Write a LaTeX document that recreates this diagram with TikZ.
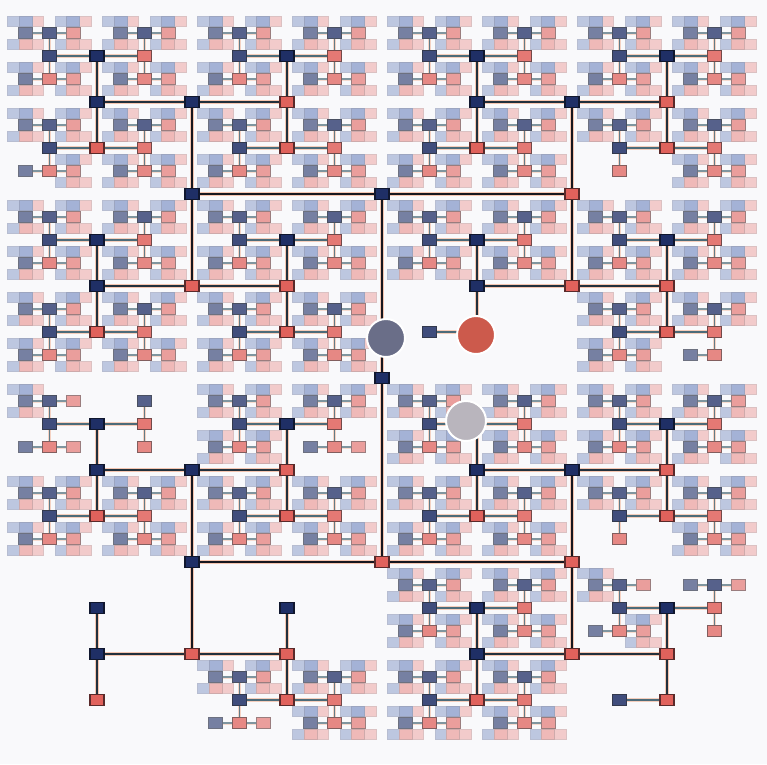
\documentclass[tikz,border=0pt]{standalone}
\pgfdeclarelayer{back}
\pgfdeclarelayer{edges}
\pgfdeclarelayer{top}
\pgfsetlayers{back,edges,main,top}
\definecolor{bg}{HTML}{F9F9FB}
\definecolor{dkF}{HTML}{1F2F66}
\definecolor{dkD}{HTML}{10172E}
\definecolor{rdF}{HTML}{E0625C}
\definecolor{rdD}{HTML}{5A2A2A}
\definecolor{dkEF}{HTML}{3D5CA8}
\definecolor{dkED}{HTML}{2A3F78}
\definecolor{rdEF}{HTML}{E26A66}
\definecolor{rdED}{HTML}{9A4A4A}
\definecolor{trunk}{HTML}{17171F}
\definecolor{midline}{HTML}{22303C}
\definecolor{teal}{HTML}{2E5262}
\definecolor{halocol}{HTML}{F0A27E}
\definecolor{circdark}{HTML}{6A6E88}
\definecolor{circred}{HTML}{CC5A4C}
\definecolor{circgray}{HTML}{B9B5BD}
\tikzset{
  tnode/.style={rectangle, minimum width=14pt, minimum height=10.5pt, inner sep=0pt, line width=1.1pt},
  marker/.style={circle, draw=white, line width=2pt, inner sep=0pt, minimum size=38pt},
}
\makeatletter
\def\tMaxD{10}
% depth, child offset, node strength (percent), edge width into node, edge colour into node, half width, half height
\newcommand\defdepth[7]{%
  \expandafter\gdef\csname off@#1\endcsname{#2}%
  \expandafter\gdef\csname op@#1\endcsname{#3}%
  \expandafter\gdef\csname ew@#1\endcsname{#4}%
  \expandafter\gdef\csname ec@#1\endcsname{#5}%
  \expandafter\gdef\csname hw@#1\endcsname{#6}%
  \expandafter\gdef\csname hh@#1\endcsname{#7}}
\defdepth{0}{184}{100}{2.6}{trunk}{7}{5.25}
\defdepth{1}{190}{100}{2.8}{trunk}{7}{5.25}
\defdepth{2}{92}{100}{2.6}{trunk}{7}{5.25}
\defdepth{3}{95}{100}{2.3}{trunk}{7}{5.25}
\defdepth{4}{46}{100}{2.0}{midline}{7}{5.25}
\defdepth{5}{47.5}{100}{1.8}{midline}{7}{5.25}
\defdepth{6}{23}{85}{1.6}{teal}{7}{5.25}
\defdepth{7}{23.75}{75}{1.5}{teal}{7}{5.25}
\defdepth{8}{11.5}{60}{1.4}{teal}{7}{5.25}
\defdepth{9}{11.875}{45}{1.3}{teal}{6.6}{5}
\defdepth{10}{5.75}{32}{1.2}{teal}{6}{4.6}
\newcommand\tleafs[1]{\foreach \tP in {#1}{\expandafter\gdef\csname tl@\tP\endcsname{}}}
\newcommand\tgone[1]{\foreach \tP in {#1}{\expandafter\gdef\csname tm@\tP\endcsname{}}}
\newcount\tdd
\newif\iftedgepass
\newcommand\tsub[4]{% path, depth, x, y
  \begingroup
  \edef\tCD{#2}\edef\tCX{#3}\edef\tCY{#4}%
  \ifcsname tl@#1\endcsname\else
  \ifnum\tCD<\tMaxD\relax
    \edef\tOff{\csname off@\tCD\endcsname}%
    \tdd=\tCD\relax \advance\tdd by 1 \edef\tND{\the\tdd}%
    \ifodd\tCD\relax
      \pgfmathsetmacro\tAX{\tCX-\tOff}\edef\tAY{\tCY}%
      \pgfmathsetmacro\tBX{\tCX+\tOff}\edef\tBY{\tCY}%
    \else
      \edef\tAX{\tCX}\pgfmathsetmacro\tAY{\tCY-\tOff}%
      \edef\tBX{\tCX}\pgfmathsetmacro\tBY{\tCY+\tOff}%
    \fi
    \ifcsname tm@#10\endcsname\else
      \tchild{#1}{0}{\tND}{\tAX}{\tAY}{dk}%
    \fi
    \ifcsname tm@#11\endcsname\else
      \tchild{#1}{1}{\tND}{\tBX}{\tBY}{rd}%
    \fi
  \fi\fi
  \endgroup}
\newcommand\tchild[6]{% parent path, bit, depth, x, y, colour set
  \edef\tcop{\csname op@#3\endcsname}%
  \edef\tcew{\csname ew@#3\endcsname}%
  \edef\tcec{\csname ec@#3\endcsname}%
  \iftedgepass
    \ifnum#3>8\relax
      \draw[draw=\tcec!\tcop!bg, line width=\tcew pt] (\tCX,\tCY) -- (#4,#5);
    \else
      \pgfmathtruncatemacro\tcho{0.6*\tcop}%
      \pgfmathsetmacro\tchw{\tcew+1.6}%
      \draw[draw=halocol!\tcho!bg, line width=\tchw pt] (t#1) -- (t#1#2);
      \draw[draw=\tcec!\tcop!bg, line width=\tcew pt] (t#1) -- (t#1#2);
    \fi
    \tsub{#1#2}{#3}{#4}{#5}%
  \else
    \ifnum#3>8\relax
      \tsub{#1#2}{#3}{#4}{#5}%
      \edef\tcop{\csname op@#3\endcsname}%
      \edef\tchx{\csname hw@#3\endcsname}\edef\tchy{\csname hh@#3\endcsname}%
      \filldraw[fill=#6EF!\tcop!bg, draw=#6ED!\tcop!bg, line width=0.9pt] (#4,#5) +(-\tchx,-\tchy) rectangle +(\tchx,\tchy);
    \else
      \node[tnode, fill=#6F!\tcop!bg, draw=#6D!\tcop!bg] (t#1#2) at (#4,#5) {};
      \tsub{#1#2}{#3}{#4}{#5}%
    \fi
  \fi}
\makeatother
\tleafs{10100,10101,10110,10111010,10111011,10000001,10000010,10000011,1000010,1000011,10010110,10010111,0101101,011010,01111110,1101101,11110001,11110010,1111011,11110100,11110101,111110,00001010}
\tgone{011011,01111111,111111}
\begin{document}
\begin{tikzpicture}[x=1pt,y=-1pt]
\begin{pgfonlayer}{back}
  \fill[bg] (0,0) rectangle (767,764);
\end{pgfonlayer}
\useasboundingbox (0,0) rectangle (767,764);
\tedgepassfalse
\node[tnode, fill=dkF, draw=dkD] (t) at (382,378) {};
\tsub{}{0}{382}{378}
\begin{pgfonlayer}{edges}
  \tedgepasstrue
  \tsub{}{0}{382}{378}
\end{pgfonlayer}
\begin{pgfonlayer}{top}
  \node[marker, fill=circdark] (cdark) at (386,338) {};
  \node[marker, fill=circred] (cred) at (476,335) {};
  \node[marker, fill=circgray, minimum size=40pt] (cgray) at (466,421) {};
\end{pgfonlayer}
\end{tikzpicture}
\end{document}
